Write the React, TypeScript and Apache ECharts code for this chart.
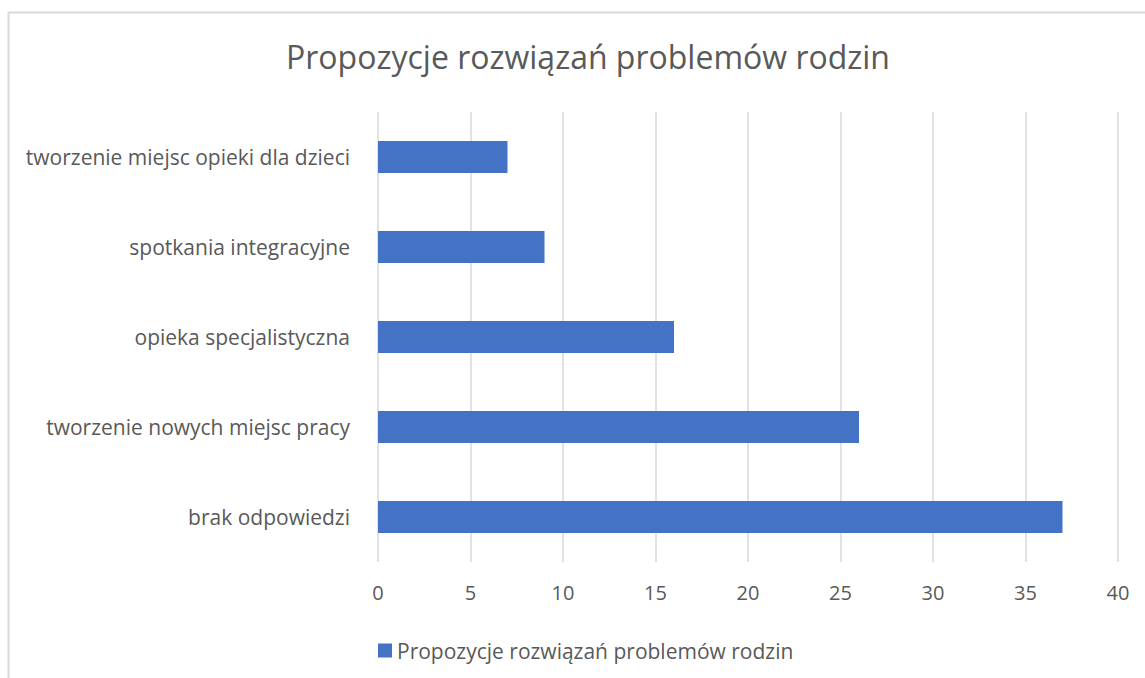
import React, { useEffect, useRef } from "react";
import * as echarts from "echarts";

const categories = [
  "brak odpowiedzi",
  "tworzenie nowych miejsc pracy",
  "opieka specjalistyczna",
  "spotkania integracyjne",
  "tworzenie miejsc opieki dla dzieci",
];
const values = [37, 26, 16, 9, 7];
const seriesName = "Propozycje rozwiązań problemów rodzin";
const titleText = "Propozycje rozwiązań problemów rodzin";

const FONT = "'Open Sans', sans-serif";
const TXT = "#595959";

export default function App() {
  const ref = useRef<HTMLDivElement>(null);
  useEffect(() => {
    if (!ref.current) return;
    const chart = echarts.init(ref.current, null, { renderer: "svg" });
    chart.setOption({
      animation: false,
      backgroundColor: "#ffffff",
      graphic: [
        {
          type: "rect",
          shape: { x: 8.5, y: 12.5, width: 1170, height: 700 },
          style: { fill: "none", stroke: "#d9d9d9", lineWidth: 2 },
          silent: true,
        },
      ],
      title: {
        text: titleText,
        left: 583,
        top: 35,
        textAlign: "center",
        textStyle: { fontFamily: FONT, fontSize: 32, fontWeight: "normal", color: TXT },
      },
      legend: {
        left: 378,
        top: 640,
        padding: 0,
        icon: "rect",
        itemWidth: 14,
        itemHeight: 14,
        itemGap: 10,
        textStyle: { fontFamily: FONT, fontSize: 21, color: TXT },
        data: [seriesName],
      },
      grid: { left: 378, right: 27, top: 112, bottom: 116, containLabel: false },
      xAxis: {
        type: "value",
        min: 0,
        max: 40,
        interval: 5,
        axisLine: { show: false },
        axisTick: { show: false },
        axisLabel: { fontFamily: FONT, fontSize: 20, color: TXT, margin: 20 },
        splitLine: { lineStyle: { color: "#d9d9d9", width: 1.5 } },
      },
      yAxis: {
        type: "category",
        data: categories,
        axisLine: { show: false },
        axisTick: { show: false },
        axisLabel: { fontFamily: FONT, fontSize: 21, color: TXT, margin: 28 },
      },
      series: [
        {
          name: seriesName,
          type: "bar",
          data: values,
          barWidth: 32,
          itemStyle: { color: "#4472c4" },
        },
      ],
    });
    return () => chart.dispose();
  }, []);
  return (
    <div
      ref={ref}
      style={{ position: "absolute", left: 0, top: 0, width: 1145, height: 678 }}
    />
  );
}
